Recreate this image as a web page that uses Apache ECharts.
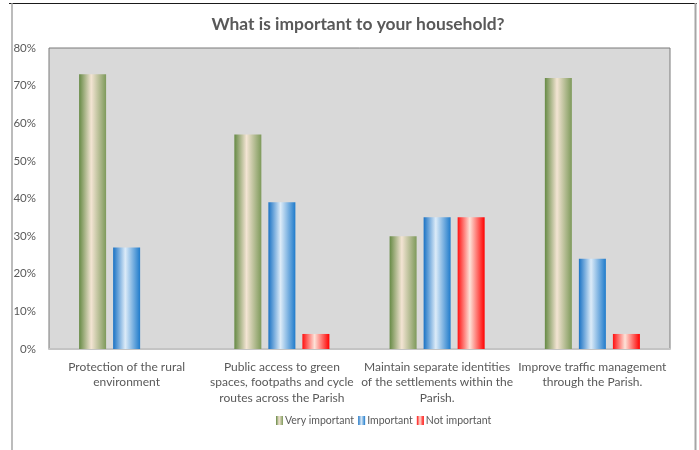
<!DOCTYPE html>
<html>
<head>
<meta charset="utf-8">
<script src="https://cdn.jsdelivr.net/npm/echarts@6/dist/echarts.min.js"></script>
<style>
html, body { margin: 0; padding: 0; background: #ffffff; }
#chart { width: 699px; height: 450px; }
</style>
</head>
<body>
<div id="chart"></div>
<script>
// Survey answers, percent of households
const categories = [
  'Protection of the rural\nenvironment',
  'Public access to green\nspaces, footpaths and cycle\nroutes across the Parish',
  'Maintain separate identities\nof the settlements within the\nParish.',
  'Improve traffic management\nthrough the Parish.'
];
const veryImportant = [73, 57, 30, 72];
const important = [27, 39, 35, 24];
const notImportant = [null, 4, 35, 4];
const yTicks = { min: 0, max: 80, step: 10 };

const textColor = '#595959';
const fontFamily = 'Lato, "Open Sans", sans-serif';

function sheen(edgeLeft, mid, edgeRight) {
  return new echarts.graphic.LinearGradient(0, 0, 1, 0, [
    { offset: 0, color: edgeLeft },
    { offset: 0.45, color: mid },
    { offset: 1, color: edgeRight }
  ]);
}

const chart = echarts.init(document.getElementById('chart'), null, { renderer: 'canvas' });

chart.setOption({
  backgroundColor: '#ffffff',
  animation: false,
  title: {
    text: 'What is important to your household?',
    left: 353,
    textAlign: 'center',
    top: 11,
    textStyle: { color: textColor, fontSize: 17.4, fontWeight: 'bold', fontFamily: fontFamily }
  },
  legend: {
    bottom: 19,
    left: 271,
    itemWidth: 7,
    itemHeight: 9,
    itemGap: 4,
    icon: 'rect',
    textStyle: { color: textColor, fontSize: 10.5, fontFamily: fontFamily, padding: [0, 0, 0, -3] },
    data: ['Very important', 'Important', 'Not important']
  },
  grid: {
    left: 49, right: 29, top: 48, bottom: 101,
    show: true,
    backgroundColor: '#d9d9d9',
    borderColor: '#7a7a7a',
    borderWidth: 1
  },
  xAxis: {
    type: 'category',
    data: categories,
    axisLine: { show: true, lineStyle: { color: '#c4c4c4', width: 2 } },
    axisTick: { show: false },
    axisLabel: {
      interval: 0,
      color: textColor,
      fontSize: 12,
      lineHeight: 15.5,
      fontFamily: fontFamily,
      margin: 10
    }
  },
  yAxis: {
    type: 'value',
    min: yTicks.min,
    max: yTicks.max,
    interval: yTicks.step,
    axisLine: { show: false },
    axisTick: { show: false },
    splitLine: { show: false },
    axisLabel: {
      formatter: '{value}%',
      color: textColor,
      fontSize: 11.5,
      fontFamily: fontFamily,
      margin: 13
    }
  },
  series: [
    {
      name: 'Very important',
      type: 'bar',
      data: veryImportant,
      barWidth: 27,
      barGap: '26%',
      itemStyle: { color: sheen('#668a45', '#f3e4d3', '#7e9a5b') }
    },
    {
      name: 'Important',
      type: 'bar',
      data: important,
      barWidth: 27,
      barGap: '26%',
      itemStyle: { color: sheen('#1a72c4', '#dcebf8', '#1f7bcb') }
    },
    {
      name: 'Not important',
      type: 'bar',
      data: notImportant,
      barWidth: 27,
      barGap: '26%',
      itemStyle: { color: sheen('#ff1010', '#fde2d8', '#ff0000') }
    }
  ],
  graphic: [
    { type: 'line', shape: { x1: 9, y1: 3.5, x2: 697, y2: 3.5 }, style: { stroke: '#1a1a1a', lineWidth: 1 } },
    { type: 'line', shape: { x1: 12, y1: 3, x2: 12, y2: 450 }, style: { stroke: '#a6a6a6', lineWidth: 1.5 } },
    { type: 'line', shape: { x1: 695.5, y1: 3, x2: 695.5, y2: 450 }, style: { stroke: '#a6a6a6', lineWidth: 2 } }
  ]
});
</script>
</body>
</html>
